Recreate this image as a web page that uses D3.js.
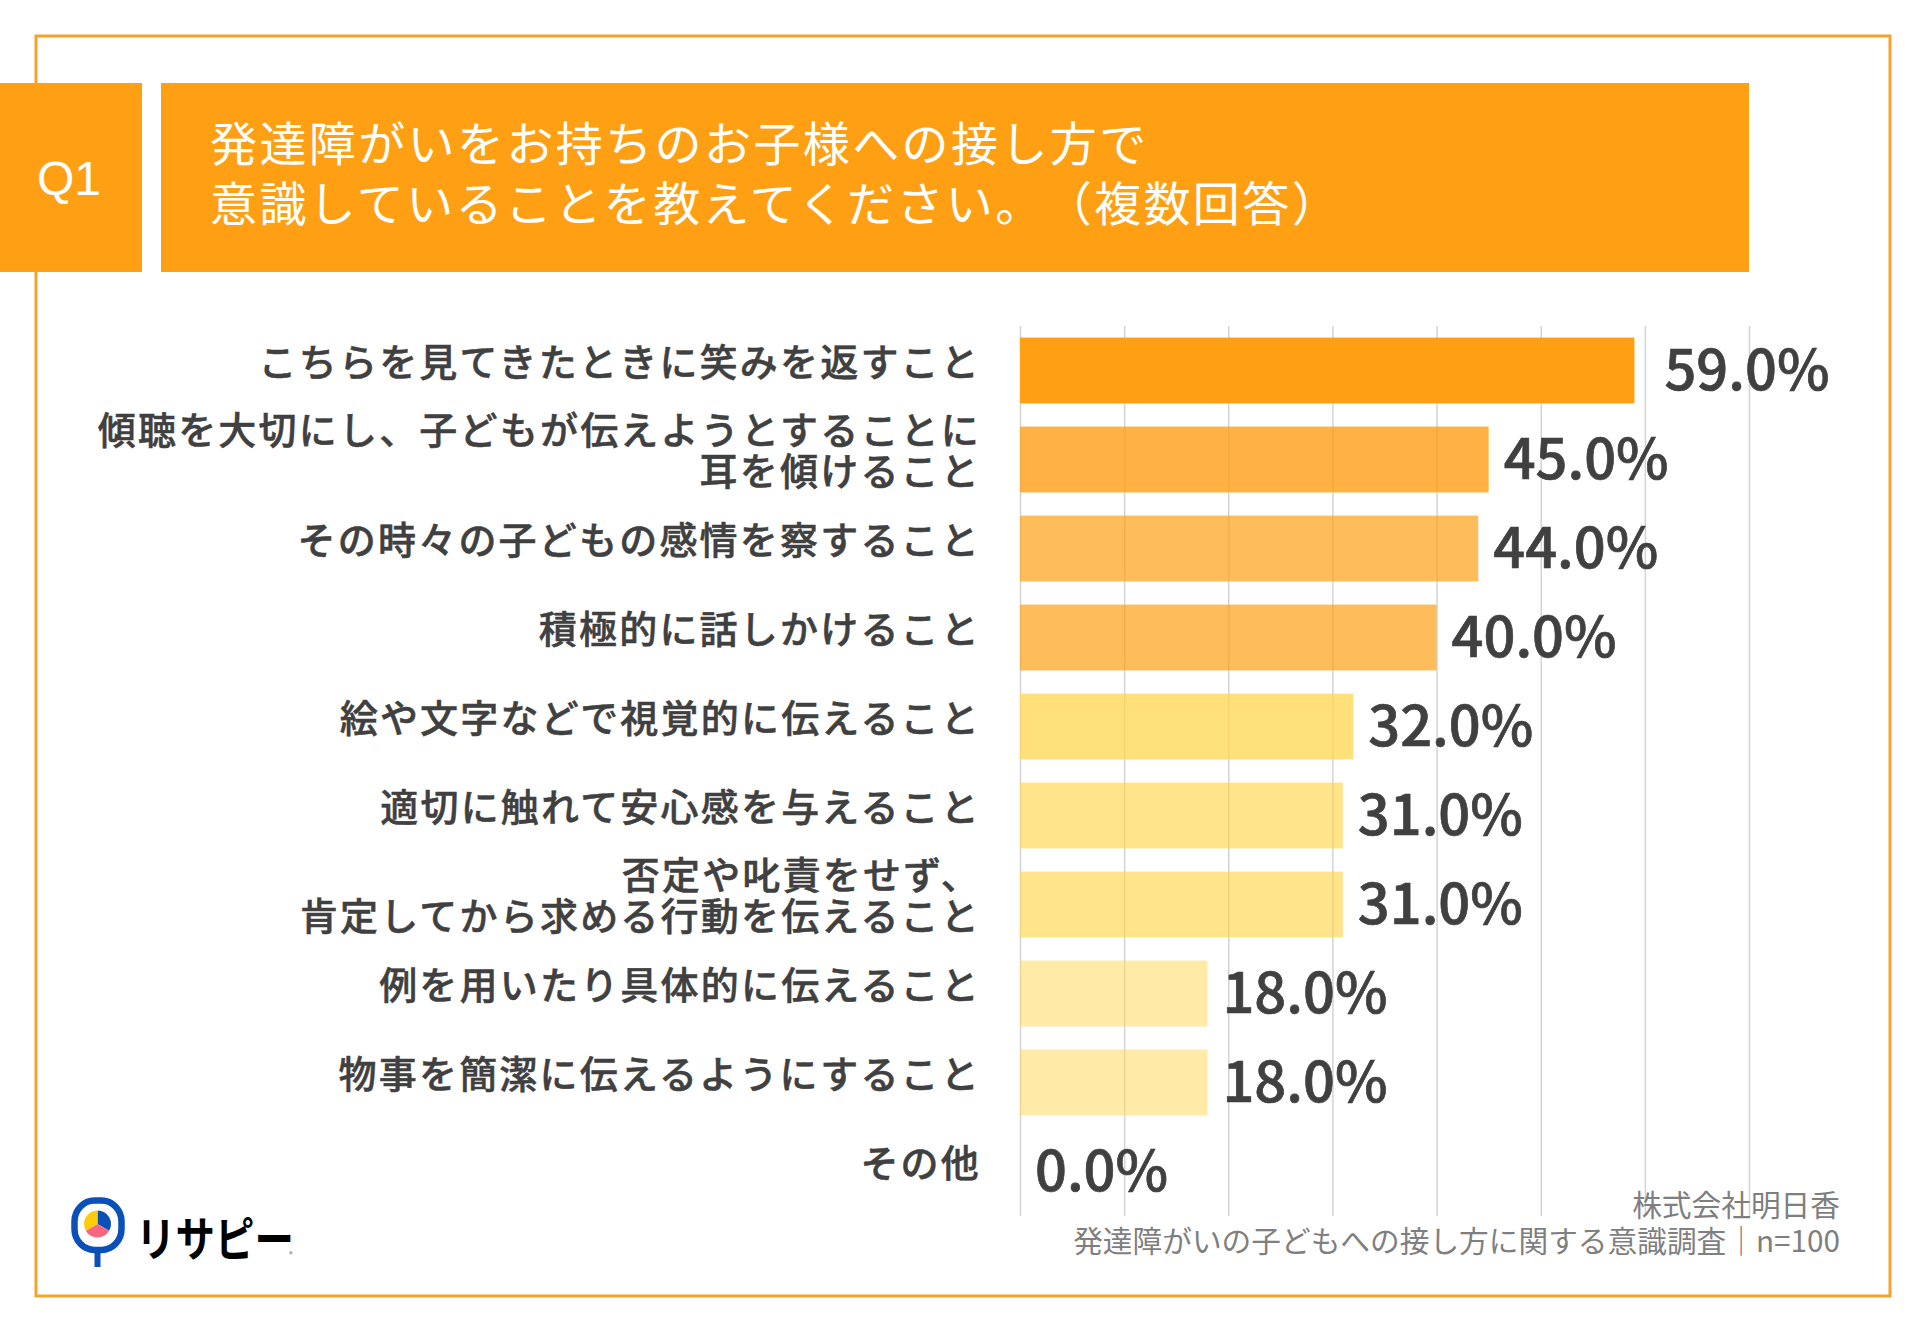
<!DOCTYPE html>
<html lang="ja">
<head>
<meta charset="utf-8">
<title>Q1</title>
<script src="https://cdn.jsdelivr.net/npm/d3@7/dist/d3.min.js"></script>
<style>
  html, body { margin: 0; padding: 0; background: #fff; }
  svg { display: block; }
  text { font-family: "Noto Sans CJK JP", sans-serif; text-spacing-trim: space-all; }
</style>
</head>
<body>
<div id="chart"></div>
<script>
// データ
const categories = [
  'こちらを見てきたときに笑みを返すこと',
  '傾聴を大切にし、子どもが伝えようとすることに\n耳を傾けること',
  'その時々の子どもの感情を察すること',
  '積極的に話しかけること',
  '絵や文字などで視覚的に伝えること',
  '適切に触れて安心感を与えること',
  '否定や叱責をせず、\n肯定してから求める行動を伝えること',
  '例を用いたり具体的に伝えること',
  '物事を簡潔に伝えるようにすること',
  'その他'
];
const values = [59, 45, 44, 40, 32, 31, 31, 18, 18, 0];
const gridTicks = [0, 10, 20, 30, 40, 50, 60, 70];
const questionLabel = 'Q1';
const titleLines = [
  '発達障がいをお持ちのお子様への接し方で',
  '意識していることを教えてください。（複数回答）'
];
const sourceLines = [
  '株式会社明日香',
  '発達障がいの子どもへの接し方に関する意識調査｜n=100'
];
const logoShares = [1, 1, 1];

const width = 1920, height = 1329;
const orange = '#ff9f14';

const svg = d3.select('#chart').append('svg')
  .attr('width', width)
  .attr('height', height)
  .attr('viewBox', [0, 0, width, height]);

// 外枠
svg.append('rect')
  .attr('x', 36).attr('y', 36)
  .attr('width', 1854).attr('height', 1260)
  .attr('fill', 'none')
  .attr('stroke', '#f4a42c')
  .attr('stroke-width', 3);

// 見出し
svg.append('rect').attr('x', 0).attr('y', 83).attr('width', 142).attr('height', 189).attr('fill', orange);
svg.append('rect').attr('x', 161).attr('y', 83).attr('width', 1588).attr('height', 189).attr('fill', orange);
svg.append('text')
  .attr('x', 69).attr('y', 195)
  .attr('text-anchor', 'middle')
  .style('font-family', '"Liberation Sans", sans-serif')
  .style('font-size', '48px')
  .attr('fill', '#fff')
  .text(questionLabel);
svg.append('g').selectAll('text')
  .data(titleLines)
  .join('text')
  .attr('x', 210)
  .attr('y', (d, i) => 161 + i * 60)
  .style('font-size', '47px')
  .style('letter-spacing', '2.4px')
  .attr('fill', '#fff')
  .text(d => d);

// スケール
const x = d3.scaleLinear().domain([0, 70]).range([1020, 1749]);
const y = d3.scaleBand().domain(categories).range([326, 1216]).paddingInner(0.26).paddingOuter(0.13);

const barFill = d3.scaleThreshold()
  .domain([31, 32, 40, 45, 59])
  .range(['#ffd54f80', '#ffd54fa6', '#ffd54fbf', '#ff9f14b3', '#ff9f14cc', orange]);

// 縦の目盛線
svg.append('g')
  .attr('transform', 'translate(0,326)')
  .call(d3.axisBottom(x).tickValues(gridTicks).tickSize(890).tickFormat(''))
  .call(g => g.select('.domain').remove())
  .call(g => g.selectAll('line').attr('stroke', '#d4d4d4').attr('stroke-width', 1.5));

// 棒
svg.append('g').selectAll('rect')
  .data(values)
  .join('rect')
  .attr('x', x(0))
  .attr('y', (d, i) => y(categories[i]))
  .attr('width', d => x(d) - x(0))
  .attr('height', y.bandwidth())
  .attr('fill', d => barFill(d));

// 数値ラベル
svg.append('g').selectAll('text')
  .data(values)
  .join('text')
  .attr('x', (d, i) => x(d) + (i === 0 ? 30 : 15))
  .attr('y', (d, i) => y(categories[i]) + y.bandwidth() / 2 + 19)
  .style('font-size', '56px')
  .style('font-weight', 500)
  .attr('fill', '#404040')
  .attr('stroke', '#404040')
  .attr('stroke-width', 0.7)
  .text(d => d3.format('.1f')(d) + '%');

// カテゴリラベル
const catLabels = svg.append('g').selectAll('text')
  .data(categories)
  .join('text')
  .attr('text-anchor', 'end')
  .style('font-size', '38px')
  .style('font-weight', 500)
  .style('letter-spacing', '2.2px')
  .attr('fill', '#404040')
  .attr('stroke', '#404040')
  .attr('stroke-width', 0.5);
catLabels.each(function(d) {
  const lines = d.split('\n');
  const cy = y(d) + y.bandwidth() / 2 - 8;
  d3.select(this).selectAll('tspan')
    .data(lines)
    .join('tspan')
    .attr('x', 981)
    .attr('y', (l, i) => cy + 13 + (i - (lines.length - 1) / 2) * 41)
    .text(l => l);
});

// 出典
svg.append('g').selectAll('text')
  .data(sourceLines)
  .join('text')
  .attr('x', 1840)
  .attr('y', (d, i) => 1216 + i * 36)
  .attr('text-anchor', 'end')
  .style('font-size', '29.7px')
  .attr('fill', '#7f7f7f')
  .text(d => d);

// ロゴ
const logo = svg.append('g');
logo.append('rect')
  .attr('x', 94.5).attr('y', 1245).attr('width', 6).attr('height', 22)
  .attr('fill', '#0a50b8');
logo.append('rect')
  .attr('x', 74.5).attr('y', 1200.5).attr('width', 47).attr('height', 49.5)
  .attr('rx', 20).attr('ry', 21)
  .attr('fill', '#fff')
  .attr('stroke', '#0a50b8')
  .attr('stroke-width', 6.5);
const pie = d3.pie().sort(null)(logoShares);
const pieArc = d3.arc().innerRadius(0).outerRadius(13.5);
logo.append('g')
  .attr('transform', 'translate(97.5,1224)')
  .selectAll('path')
  .data(pie)
  .join('path')
  .attr('d', pieArc)
  .attr('fill', (d, i) => ['#0a50b8', '#f9657f', '#fdcc0d'][i]);
logo.append('text')
  .attr('transform', 'translate(136,1256) scale(0.84,1)')
  .style('font-size', '47px')
  .style('font-weight', 700)
  .attr('fill', '#000')
  .text('リサピー');
logo.append('text')
  .attr('x', 291).attr('y', 1257)
  .attr('text-anchor', 'middle')
  .style('font-size', '7px')
  .attr('fill', '#555')
  .text('®');
</script>
</body>
</html>
